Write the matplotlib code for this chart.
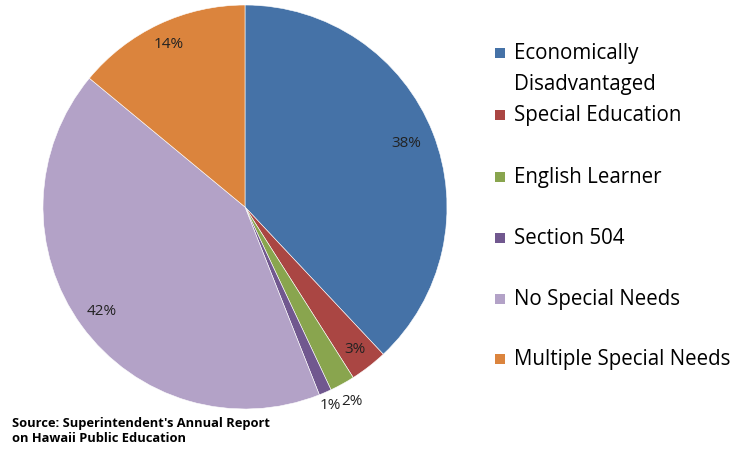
import matplotlib.pyplot as plt
from matplotlib.patches import Rectangle
import numpy as np

categories = ['Economically\nDisadvantaged', 'Special Education', 'English Learner',
              'Section 504', 'No Special Needs', 'Multiple Special Needs']
values = [38, 3, 2, 1, 42, 14]
pct_labels = ['38%', '3%', '2%', '1%', '42%', '14%']
colors = ['#4572A7', '#AA4643', '#89A54E', '#71588F', '#B3A2C7', '#DB843D']
label_dist = [0.86, 0.89, 1.10, 1.07, 0.88, 0.89]

plt.rcParams['font.family'] = ['Open Sans', 'DejaVu Sans']

W, H = 741, 450
fig = plt.figure(figsize=(W / 100, H / 100), dpi=100)

# pie centre (245, 207) px, radius 202 px
cx, cy, r = 245, 207, 202
ax = fig.add_axes([(cx - r) / W, (H - cy - r) / H, 2 * r / W, 2 * r / H])
wedges, _ = ax.pie(values, colors=colors, startangle=90, counterclock=False,
                   radius=1, wedgeprops=dict(linewidth=0.4, edgecolor='white'))
ax.set_xlim(-1, 1)
ax.set_ylim(-1, 1)
ax.set_aspect('equal')
ax.axis('off')

for w, lab, d in zip(wedges, pct_labels, label_dist):
    ang = np.deg2rad((w.theta1 + w.theta2) / 2)
    ax.text(d * np.cos(ang), d * np.sin(ang), lab, ha='center', va='center',
            fontsize=11, color='#222222')

# legend, laid out like the Excel one (marker sits on the first text line)
leg_y = [53, 115, 177, 238, 299, 359]
for lab, c, y in zip(categories, colors, leg_y):
    fig.patches.append(Rectangle((495 / W, 1 - (y + 5) / H), 10 / W, 10 / H,
                                 transform=fig.transFigure, facecolor=c,
                                 edgecolor='none'))
    fig.text(514 / W, 1 - (y - 10) / H, lab, ha='left', va='top', fontsize=14.8,
             color='black', linespacing=1.6)

fig.text(12 / W, 1 - 431 / H, "Source: Superintendent's Annual Report\non Hawaii Public Education",
         ha='left', va='center', fontsize=9.3, fontweight='bold', linespacing=1.25)

fig.savefig('out.png', dpi=100)
